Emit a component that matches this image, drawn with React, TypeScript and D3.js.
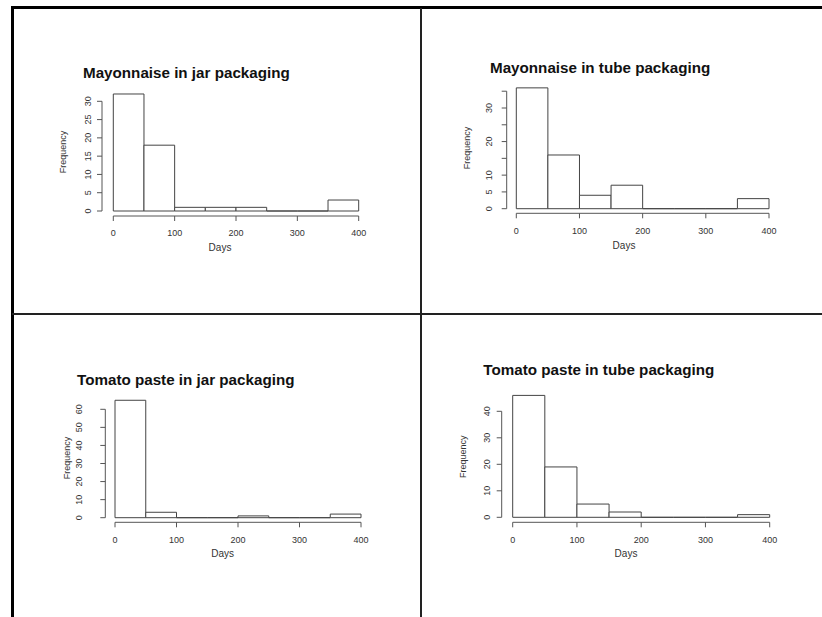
import React from "react";
import * as d3 from "d3";

const binEdges = [0, 50, 100, 150, 200, 250, 300, 350, 400];
const xTicks = [0, 100, 200, 300, 400];

const titles = [
  "Mayonnaise in jar packaging",
  "Mayonnaise in tube packaging",
  "Tomato paste in jar packaging",
  "Tomato paste in tube packaging",
];

const mayoJarCounts = [32, 18, 1, 1, 1, 0, 0, 3];
const mayoTubeCounts = [36, 16, 4, 7, 0, 0, 0, 3];
const tomatoJarCounts = [65, 3, 0, 0, 1, 0, 0, 2];
const tomatoTubeCounts = [46, 19, 5, 2, 0, 0, 0, 1];

const mayoJarYTicks = [0, 5, 10, 15, 20, 25, 30];
const mayoJarYLabels = [0, 5, 10, 15, 20, 25, 30];
const mayoTubeYTicks = [0, 5, 10, 15, 20, 25, 30, 35];
const mayoTubeYLabels = [0, 5, 10, 20, 30];
const tomatoJarYTicks = [0, 10, 20, 30, 40, 50, 60];
const tomatoJarYLabels = [0, 10, 20, 30, 40, 50, 60];
const tomatoTubeYTicks = [0, 10, 20, 30, 40];
const tomatoTubeYLabels = [0, 10, 20, 30, 40];

const xLabel = "Days";
const yLabel = "Frequency";

type Layout = {
  x0: number; x1: number; y0: number; yRef: number; yRefVal: number;
  yAxisX: number; xAxisY: number; titleX: number; titleY: number;
  freqX: number; freqY: number; daysX: number; daysY: number;
  xLabY: number; yLabX: number;
};

const layouts: Layout[] = [
  { x0: 113.3, x1: 358.7, y0: 211, yRef: 101.3, yRefVal: 30, yAxisX: 102, xAxisY: 216,
    titleX: 83, titleY: 72, freqX: 63, freqY: 152, daysX: 220, daysY: 247, xLabY: 233, yLabX: 88 },
  { x0: 516.3, x1: 769, y0: 208.7, yRef: 108, yRefVal: 30, yAxisX: 506.7, xAxisY: 213.3,
    titleX: 490, titleY: 67, freqX: 466.7, freqY: 148, daysX: 624, daysY: 245, xLabY: 231, yLabX: 489.3 },
  { x0: 115, x1: 361, y0: 517.7, yRef: 409.3, yRefVal: 60, yAxisX: 105.3, xAxisY: 522.3,
    titleX: 77, titleY: 379, freqX: 66.7, freqY: 458, daysX: 222.7, daysY: 553.3, xLabY: 540, yLabX: 79.3 },
  { x0: 512.7, x1: 769.7, y0: 517.3, yRef: 411.3, yRefVal: 40, yAxisX: 501.7, xAxisY: 522.3,
    titleX: 483.3, titleY: 369.3, freqX: 462.7, freqY: 456.7, daysX: 626, daysY: 553.3, xLabY: 540, yLabX: 486.7 },
];

const countsList = [mayoJarCounts, mayoTubeCounts, tomatoJarCounts, tomatoTubeCounts];
const yTicksList = [mayoJarYTicks, mayoTubeYTicks, tomatoJarYTicks, tomatoTubeYTicks];
const yLabelsList = [mayoJarYLabels, mayoTubeYLabels, tomatoJarYLabels, tomatoTubeYLabels];

const FONT = "'Liberation Sans', Arial, Helvetica, sans-serif";

function Panel({ idx }: { idx: number }) {
  const L = layouts[idx];
  const counts = countsList[idx];
  const yTicks = yTicksList[idx];
  const yLabels = yLabelsList[idx];
  const x = d3.scaleLinear().domain([0, 400]).range([L.x0, L.x1]);
  const y = d3.scaleLinear().domain([0, L.yRefVal]).range([L.y0, L.yRef]);
  const yMax = d3.max(yTicks) as number;
  const axisColor = "#555";
  const textColor = "#333";
  return (
    <g>
      <text x={L.titleX} y={L.titleY} dominantBaseline="central" fontFamily={FONT}
        fontWeight="bold" fontSize={15.2} fill="#111">{titles[idx]}</text>
      {counts.map((c, i) => {
        const xa = x(binEdges[i]);
        const xb = x(binEdges[i + 1]);
        const yt = y(c);
        const yb = y(0);
        return (
          <path key={i} d={`M${xa},${yb}L${xa},${yt}L${xb},${yt}L${xb},${yb}Z`}
            fill="#fff" stroke="#444" strokeWidth={1} />
        );
      })}
      {/* x axis */}
      <line x1={x(0)} x2={x(400)} y1={L.xAxisY} y2={L.xAxisY} stroke={axisColor} strokeWidth={1} />
      {xTicks.map((t) => (
        <g key={t}>
          <line x1={x(t)} x2={x(t)} y1={L.xAxisY} y2={L.xAxisY + 5} stroke={axisColor} strokeWidth={1} />
          <text x={x(t)} y={L.xLabY} textAnchor="middle" dominantBaseline="central"
            fontFamily={FONT} fontSize={9} fill={textColor}>{t}</text>
        </g>
      ))}
      {/* y axis */}
      <line x1={L.yAxisX} x2={L.yAxisX} y1={y(0)} y2={y(yMax)} stroke={axisColor} strokeWidth={1} />
      {yTicks.map((t) => (
        <line key={t} x1={L.yAxisX - 5} x2={L.yAxisX} y1={y(t)} y2={y(t)} stroke={axisColor} strokeWidth={1} />
      ))}
      {yLabels.map((t) => (
        <text key={t} transform={`translate(${L.yLabX},${y(t)}) rotate(-90)`} textAnchor="middle"
          dominantBaseline="central" fontFamily={FONT} fontSize={9} fill={textColor}>{t}</text>
      ))}
      <text x={L.daysX} y={L.daysY} textAnchor="middle" dominantBaseline="central"
        fontFamily={FONT} fontSize={10} fill={textColor}>{xLabel}</text>
      <text transform={`translate(${L.freqX},${L.freqY}) rotate(-90)`} textAnchor="middle"
        dominantBaseline="central" fontFamily={FONT} fontSize={9} fill={textColor}>{yLabel}</text>
    </g>
  );
}

export default function App() {
  return (
    <svg width={822} height={617} style={{ position: "absolute", left: 0, top: 0, background: "#fff" }}>
      <rect x={0} y={0} width={822} height={617} fill="#fff" />
      {/* frame */}
      <line x1={11} x2={822} y1={7.5} y2={7.5} stroke="#000" strokeWidth={3} />
      <line x1={12.5} x2={12.5} y1={6} y2={617} stroke="#000" strokeWidth={3} />
      <line x1={12} x2={822} y1={314} y2={314} stroke="#222" strokeWidth={2} />
      <line x1={421} x2={421} y1={8} y2={617} stroke="#222" strokeWidth={2} />
      {[0, 1, 2, 3].map((i) => <Panel key={i} idx={i} />)}
    </svg>
  );
}
